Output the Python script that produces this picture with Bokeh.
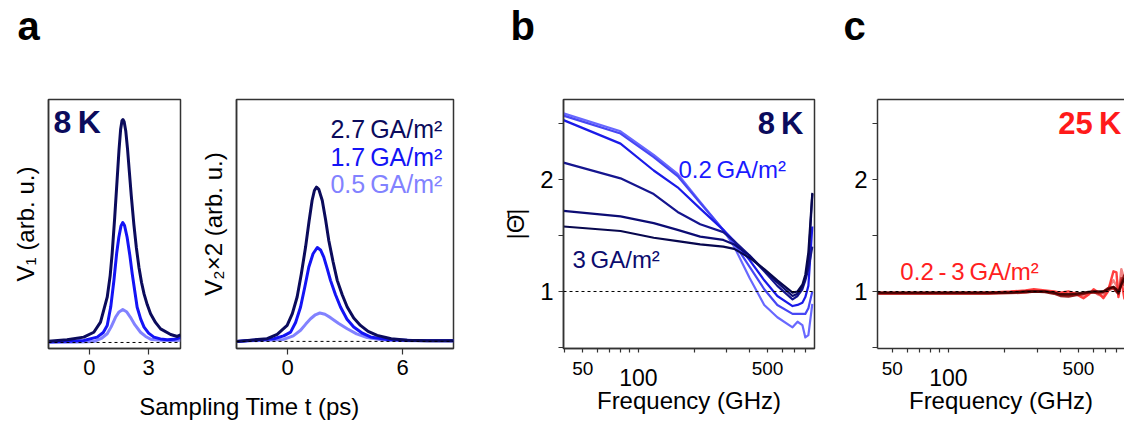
from bokeh.plotting import figure
from bokeh.layouts import row, column
from bokeh.models import (FixedTicker, LogAxis, LinearAxis, Span, Label, Range1d,
                          BasicTickFormatter)
from bokeh.embed import file_html
from bokeh.resources import INLINE

# ---------------- data ----------------
# panel a, left (V1), sampling time in ps, amplitude in arb. u.
a1_t_dark = [-2.08, -1.14, -0.29, 0.22, 0.56, 0.90, 1.05, 1.15, 1.28, 1.40, 1.50, 1.58, 1.65, 1.70, 1.76,
             1.84, 1.93, 2.02, 2.12, 2.25, 2.38, 2.51, 2.64, 2.77, 2.93, 3.10, 3.35, 3.61, 4.12, 4.46, 4.62]
a1_v_dark = [0.006, 0.012, 0.024, 0.046, 0.091, 0.203, 0.300, 0.398, 0.560, 0.726, 0.865, 0.955, 0.995, 1.0, 0.99,
             0.95, 0.87, 0.77, 0.66, 0.532, 0.425, 0.338, 0.270, 0.218, 0.170, 0.129, 0.090, 0.061, 0.036, 0.027, 0.034]
a1_t_blue = [-2.08, -1.0, -0.29, 0.39, 0.70, 0.90, 1.08, 1.24, 1.38, 1.49, 1.60, 1.69, 1.78, 1.91, 2.05, 2.17,
             2.30, 2.42, 2.60, 2.77, 3.00, 3.27, 3.60, 3.95, 4.30, 4.62]
a1_v_blue = [0.003, 0.005, 0.009, 0.024, 0.045, 0.076, 0.160, 0.278, 0.400, 0.472, 0.523, 0.538, 0.525, 0.472, 0.390, 0.308,
             0.230, 0.158, 0.105, 0.069, 0.042, 0.024, 0.016, 0.012, 0.014, 0.022]
a1_t_light = [-2.08, -0.5, 0.22, 0.60, 0.90, 1.10, 1.32, 1.50, 1.69, 1.88, 2.08, 2.30, 2.59, 2.85, 3.10, 3.60, 4.20, 4.62]
a1_v_light = [0.0, 0.002, 0.004, 0.018, 0.039, 0.070, 0.113, 0.137, 0.148, 0.138, 0.113, 0.080, 0.046, 0.027, 0.015,
              0.010, 0.009, 0.010]

# panel a, right (V2 x 2)
a2_t_dark = [-2.66, -1.06, -0.54, -0.02, 0.25, 0.50, 0.72, 0.94, 1.12, 1.28, 1.40, 1.51, 1.63, 1.81, 1.98, 2.15,
             2.37, 2.59, 2.85, 3.11, 3.45, 3.80, 4.20, 4.67, 5.40, 6.23, 7.30, 8.65]
a2_v_dark = [0.0, 0.012, 0.032, 0.072, 0.125, 0.200, 0.305, 0.425, 0.540, 0.635, 0.680, 0.695, 0.685, 0.635, 0.550, 0.455,
             0.360, 0.275, 0.210, 0.155, 0.105, 0.072, 0.045, 0.027, 0.012, 0.005, 0.003, 0.003]
a2_t_blue = [-2.66, -0.71, -0.20, 0.16, 0.42, 0.68, 0.90, 1.11, 1.33, 1.55, 1.72, 1.89, 2.06, 2.24, 2.50, 2.76,
             3.10, 3.45, 3.90, 4.32, 5.20, 6.50, 8.65]
a2_v_blue = [0.0, 0.012, 0.025, 0.042, 0.085, 0.155, 0.245, 0.335, 0.395, 0.423, 0.412, 0.380, 0.330, 0.275, 0.210, 0.155,
             0.100, 0.065, 0.037, 0.020, 0.008, 0.004, 0.003]
a2_t_light = [-2.66, -0.20, 0.30, 0.68, 0.95, 1.20, 1.45, 1.68, 1.95, 2.24, 2.65, 3.11, 3.60, 4.15, 4.80, 5.36, 6.50, 8.65]
a2_v_light = [0.0, 0.009, 0.025, 0.050, 0.078, 0.102, 0.120, 0.128, 0.122, 0.107, 0.082, 0.057, 0.034, 0.017, 0.009,
              0.005, 0.003, 0.003]

a_legend = ["2.7\u2009GA/m\u00b2", "1.7\u2009GA/m\u00b2", "0.5\u2009GA/m\u00b2"]
a_colors = ["#0b0b5c", "#1414f5", "#8282ff"]

# panel b, 8 K, |Theta| vs frequency (GHz)
freq_b = [39.3, 80, 121, 163, 216, 288, 330, 400, 480, 565, 683, 727, 772, 801, 832, 874]
b_L1 = [2.59, 2.43, 2.22, 2.05, 1.80, 1.55, 1.40, 1.12, 0.88, 0.77, 0.68, 0.73, 0.70, 0.59, 0.61, 0.89]
b_L2 = [2.57, 2.41, 2.20, 2.03, 1.79, 1.55, 1.43, 1.22, 1.02, 0.88, 0.80, 0.80, 0.80, 0.80, 0.85, 1.00]
b_L3 = [2.53, 2.32, 2.08, 1.93, 1.74, 1.55, 1.45, 1.28, 1.10, 0.96, 0.87, 0.88, 0.90, 0.95, 1.05, 1.58]
b_L4 = [2.15, 2.01, 1.87, 1.71, 1.60, 1.53, 1.45, 1.32, 1.18, 1.05, 0.93, 0.96, 1.02, 1.10, 1.20, 1.40]
b_L5 = [1.72, 1.67, 1.61, 1.55, 1.49, 1.46, 1.42, 1.32, 1.19, 1.08, 0.96, 0.98, 1.04, 1.12, 1.25, 1.87]
b_L6 = [1.58, 1.54, 1.48, 1.45, 1.42, 1.40, 1.38, 1.30, 1.20, 1.10, 0.99, 1.00, 1.06, 1.15, 1.35, 1.88]
b_series = [b_L1, b_L2, b_L3, b_L4, b_L5, b_L6]
b_colors = ["#6868ff", "#4747f4", "#1a1ae8", "#15158f", "#0c0c74", "#07074e"]

# panel c, 25 K
freq_c = [41.6, 60, 80, 121, 163, 216, 260, 288, 330, 370, 400, 442, 480, 532, 565, 603, 640, 681, 720, 771,
          800, 820, 850, 884]
c_C1 = [0.99, 0.99, 0.99, 0.99, 0.99, 1.00, 1.01, 1.02, 1.01, 1.00, 0.99, 1.00, 0.98, 0.94, 0.97, 1.02, 0.99, 0.94,
        1.00, 1.18, 1.17, 0.95, 1.10, 0.93]
c_C2 = [0.985, 0.985, 0.985, 0.99, 0.99, 0.995, 1.005, 1.01, 1.0, 0.99, 0.98, 0.97, 0.99, 0.96, 0.98, 1.0, 0.97, 0.96,
        1.02, 1.10, 1.05, 0.97, 1.20, 1.10]
c_C3 = [0.98, 0.98, 0.98, 0.98, 0.98, 0.985, 0.99, 1.0, 1.0, 0.99, 0.97, 0.965, 0.97, 0.98, 0.99, 0.995, 0.98, 0.99,
        1.01, 1.03, 1.0, 0.98, 1.12, 1.05]
c_C4 = [0.985, 0.985, 0.985, 0.985, 0.985, 0.99, 0.995, 1.0, 0.995, 0.98, 0.96, 0.955, 0.965, 0.98, 0.99, 0.99, 0.99,
        1.00, 1.03, 1.04, 1.0, 0.98, 1.08, 1.15]
c_C5 = [0.99, 0.99, 0.99, 0.99, 0.99, 0.99, 1.0, 1.0, 1.0, 0.99, 0.975, 0.975, 0.98, 0.99, 0.995, 1.0, 1.0, 1.0,
        1.02, 1.04, 1.02, 0.99, 1.06, 1.12]
c_series = [c_C2, c_C1, c_C3, c_C4, c_C5]
c_colors = ["#f07878", "#ff2a2a", "#c43030", "#8a0a0a", "#3c0000"]

freq_ticks = [50, 100, 500]
freq_minor = [40, 60, 70, 80, 90, 200, 300, 400, 600, 700, 800, 900]

panel_letters = ["a", "b", "c"]

# ---------------- styling helpers ----------------
FONT = "Liberation Sans"
FRAME = "#333333"
NAVY = "#0b0b5c"
TOP = 49  # space above each frame (below the letter strip)


def make_fig(width, height, mbl, mbr, mbt, mbb, xr, yr, x_axis_type="linear"):
    p = figure(width=width, height=height, x_range=xr, y_range=yr, x_axis_type=x_axis_type,
               output_backend="svg", toolbar_location=None, title_location=None,
               min_border_left=mbl, min_border_right=mbr, min_border_top=mbt, min_border_bottom=mbb)
    p.grid.visible = False
    p.outline_line_color = FRAME
    p.outline_line_width = 1.5
    p.background_fill_color = "white"
    p.border_fill_color = "white"
    return p


def text_fig(width, height):
    p = figure(width=width, height=height, x_range=Range1d(0, width), y_range=Range1d(height, 0),
               output_backend="svg", toolbar_location=None, title_location=None,
               x_axis_location=None, y_axis_location=None, min_border=0)
    p.grid.visible = False
    p.outline_line_color = None
    p.background_fill_color = "white"
    p.border_fill_color = "white"
    return p


def style_axis(ax, label_size="22px", tick_out=5, minor_out=4):
    ax.axis_line_color = FRAME
    ax.axis_line_width = 1.5
    ax.major_tick_line_color = FRAME
    ax.minor_tick_line_color = FRAME
    ax.major_tick_line_width = 1.2
    ax.minor_tick_line_width = 1.2
    ax.major_tick_in = 0
    ax.minor_tick_in = 0
    ax.major_tick_out = tick_out
    ax.minor_tick_out = minor_out
    ax.major_label_text_font = FONT
    ax.major_label_text_font_size = label_size
    ax.major_label_text_color = "black"
    ax.axis_label_text_font = FONT
    ax.axis_label_text_font_size = "24px"
    ax.axis_label_text_font_style = "normal"
    ax.axis_label_text_color = "black"


def add_label(p, x, y, text, size, color="black", bold=False, align="left"):
    # y is the vertical centre of the text
    p.add_layout(Label(x=x, y=y, text=text, text_font=FONT, text_font_size=size,
                       text_font_style="bold" if bold else "normal", text_color=color,
                       text_align=align, text_baseline="middle"))


def dashed(p, loc):
    p.add_layout(Span(location=loc, dimension="width", line_color="black",
                      line_dash="3 3", line_width=1))


# ---------------- strip with panel letters ----------------
letters = text_fig(1124, 50)
for txt, xx in zip(panel_letters, [17, 510, 843]):
    add_label(letters, xx, 25, txt, "40px", "black", bold=True)

# ---------------- panel a, left ----------------
a1 = make_fig(190, 333, 48, 10, TOP, 35, Range1d(-2.08, 4.62), Range1d(-0.027, 1.09))
style_axis(a1.xaxis[0], tick_out=6)
a1.xaxis[0].ticker = FixedTicker(ticks=[0, 3])
a1.xaxis[0].major_label_standoff = 5
style_axis(a1.yaxis[0])
a1.yaxis[0].ticker = FixedTicker(ticks=[])
a1.yaxis[0].axis_label = "V\u2081 (arb. u.)"
a1.yaxis[0].axis_label_standoff = 10
dashed(a1, 0)
for t, v, c in [(a1_t_light, a1_v_light, a_colors[2]), (a1_t_blue, a1_v_blue, a_colors[1]),
                (a1_t_dark, a1_v_dark, a_colors[0])]:
    a1.line(t, v, line_color=c, line_width=3, line_join="round")
add_label(a1, -1.83, 0.989, "8\u2009K", "32px", NAVY, bold=True)

# ---------------- panel a, right ----------------
a2 = make_fig(280, 333, 46, 17, TOP, 35, Range1d(-2.66, 8.65), Range1d(-0.032, 1.09))
style_axis(a2.xaxis[0], tick_out=6)
a2.xaxis[0].ticker = FixedTicker(ticks=[0, 6])
a2.xaxis[0].major_label_standoff = 5
style_axis(a2.yaxis[0])
a2.yaxis[0].ticker = FixedTicker(ticks=[])
a2.yaxis[0].axis_label = "V\u2082\u00d72 (arb. u.)"
a2.yaxis[0].axis_label_standoff = 10
dashed(a2, 0)
for t, v, c in [(a2_t_light, a2_v_light, a_colors[2]), (a2_t_blue, a2_v_blue, a_colors[1]),
                (a2_t_dark, a2_v_dark, a_colors[0])]:
    a2.line(t, v, line_color=c, line_width=3, line_join="round")
for txt, yy, col in zip(a_legend, [0.957, 0.831, 0.709], a_colors):
    add_label(a2, 8.07, yy, txt, "25px", col, align="right")

# shared x-axis title of panel a
lab = text_fig(470, 40)
add_label(lab, 249, 23, "Sampling Time t (ps)", "24px", "black", align="center")

left_block = column(row(a1, a2, spacing=0), lab, spacing=0)


# ---------------- frequency panels ----------------
def freq_axes(p):
    ax = p.xaxis[0]
    style_axis(ax, label_size="19px", tick_out=4, minor_out=4)
    ax.ticker = FixedTicker(ticks=freq_ticks, minor_ticks=freq_minor)
    ax.formatter = BasicTickFormatter()
    ax.major_label_overrides = {50: "50", 100: "", 500: "500"}
    ax.major_label_standoff = 9
    ax2 = LogAxis(ticker=FixedTicker(ticks=[100]), formatter=BasicTickFormatter())
    style_axis(ax2, label_size="23px", tick_out=0, minor_out=0)
    ax2.axis_line_color = None
    ax2.major_tick_line_color = None
    ax2.minor_tick_line_color = None
    ax2.major_label_standoff = -9
    ax2.axis_label = "Frequency (GHz)"
    ax2.axis_label_standoff = -2
    p.add_layout(ax2, "below")
    ay = p.yaxis[0]
    style_axis(ay, label_size="24px", tick_out=5, minor_out=5)
    ay.ticker = FixedTicker(ticks=[1, 2], minor_ticks=[0.5, 1.5, 2.5])
    ay.major_label_standoff = 5


pb = make_fig(360, 373, 93, 16, TOP, 75, Range1d(39.3, 898), Range1d(0.491, 2.714), x_axis_type="log")
freq_axes(pb)
pb.yaxis[0].axis_label = "|\u0398\u0304|"
pb.yaxis[0].axis_label_standoff = 8
for s, c in zip(b_series, b_colors):
    pb.line(freq_b, s, line_color=c, line_width=2.2, line_join="round")
dashed(pb, 1)
add_label(pb, 783, 2.504, "8\u2009K", "31px", NAVY, bold=True, align="right")
add_label(pb, 164.7, 2.085, "0.2\u2009GA/m\u00b2", "24px", "#1a1aff")
add_label(pb, 43.9, 1.29, "3\u2009GA/m\u00b2", "24px", "#0c0c6e")

pc = make_fig(294, 373, 47, 0, TOP, 75, Range1d(41.6, 884), Range1d(0.491, 2.714), x_axis_type="log")
pc.outline_line_color = None
freq_axes(pc)
top_axis = LinearAxis(ticker=FixedTicker(ticks=[]))
top_axis.axis_line_color = FRAME
top_axis.axis_line_width = 1.5
top_axis.major_tick_line_color = None
top_axis.minor_tick_line_color = None
pc.add_layout(top_axis, "above")
for s, c in zip(c_series, c_colors):
    pc.line(freq_c, s, line_color=c, line_width=2.4, line_alpha=0.9, line_join="round")
dashed(pc, 1)
add_label(pc, 851, 2.504, "25\u2009K", "31px", "#ff1a1a", bold=True, align="right")
add_label(pc, 55.2, 1.179, "0.2\u2009-\u20093\u2009GA/m\u00b2", "24px", "#ff2020")

layout = column(letters, row(left_block, pb, pc, spacing=0), spacing=0)

open("out.html", "w").write(file_html(layout, INLINE))
